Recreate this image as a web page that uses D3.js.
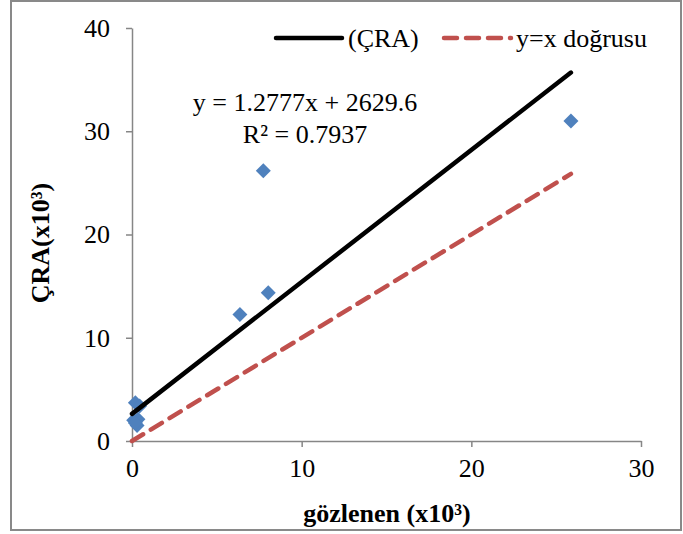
<!DOCTYPE html>
<html>
<head>
<meta charset="utf-8">
<script src="https://cdn.jsdelivr.net/npm/d3@7"></script>
<style>
  body { margin: 0; background: #fff; }
  svg { display: block; font-family: "Liberation Serif", "Times New Roman", serif; }
</style>
</head>
<body>
<div id="svg-container"></div>
<script>
// data (x10^3)
const gozlenen = [25.87, 7.74, 8.03, 6.36, 0.2, 0.45, 0.1, 0.35, 0.3, 0.2];
const cra      = [31.0, 26.17, 14.36, 12.26, 3.7, 3.4, 2.0, 2.1, 1.5, 1.75];
const xTicks = [0, 10, 20, 30];
const yTicks = [0, 10, 20, 30, 40];
// trend line (from label)
const slope = 1.2777;
const intercept = 2.6296; // 2629.6 / 1000
const equationText = "y = 1.2777x + 2629.6";
const r2Text = "R² = 0.7937";
const legendNames = ["(ÇRA)", "y=x doğrusu"];

const width = 683, height = 534;
const svg = d3.select("#svg-container").append("svg")
  .attr("width", width).attr("height", height);

// outer border
svg.append("rect")
  .attr("x", 11).attr("y", 1).attr("width", 670).attr("height", 529)
  .attr("fill", "#fff").attr("stroke", "#898989").attr("stroke-width", 2);

const xScale = d3.scaleLinear().domain([0, 30]).range([132, 641]);
const yScale = d3.scaleLinear().domain([0, 40]).range([441, 28]);

const axisColor = "#868686";

// y axis
const yAxis = svg.append("g")
  .attr("transform", `translate(${xScale(0)},0)`)
  .call(d3.axisLeft(yScale).tickValues(yTicks).tickSize(6).tickSizeOuter(0).tickPadding(16));
// x axis
const xAxis = svg.append("g")
  .attr("transform", `translate(0,${yScale(0)})`)
  .call(d3.axisBottom(xScale).tickValues(xTicks).tickSize(6).tickSizeOuter(0).tickPadding(12));

[xAxis, yAxis].forEach(g => {
  g.select(".domain").attr("stroke", axisColor).attr("stroke-width", 1.5);
  g.selectAll(".tick line").attr("stroke", axisColor).attr("stroke-width", 1.5);
  g.selectAll(".tick text")
    .attr("fill", "#000")
    .style("font-family", "Liberation Serif")
    .style("font-size", "26px");
});

// y=x line
const xMax = d3.max(gozlenen);
svg.append("line")
  .attr("x1", xScale(0)).attr("y1", yScale(0))
  .attr("x2", xScale(xMax)).attr("y2", yScale(xMax))
  .attr("stroke", "#C0504D").attr("stroke-width", 4.5)
  .attr("stroke-dasharray", "13,9").attr("stroke-linecap", "round");

// points
const points = gozlenen.map((g, i) => ({ x: g, y: cra[i] }));
svg.selectAll(".pt").data(points).join("path")
  .attr("class", "pt")
  .attr("d", d3.symbol(d3.symbolSquare).size(112))
  .attr("transform", d => `translate(${xScale(d.x)},${yScale(d.y)}) rotate(45)`)
  .attr("fill", "#4F81BD");

// trend line
svg.append("line")
  .attr("x1", xScale(0)).attr("y1", yScale(intercept))
  .attr("x2", xScale(xMax)).attr("y2", yScale(slope * xMax + intercept))
  .attr("stroke", "#000").attr("stroke-width", 4.5).attr("stroke-linecap", "round");

// equation label
const eq = svg.append("text")
  .attr("text-anchor", "middle")
  .style("font-size", "26px");
eq.append("tspan").attr("x", 305).attr("y", 111).text(equationText);
eq.append("tspan").attr("x", 305).attr("y", 143).text(r2Text);

// legend
const legend = svg.append("g");
legend.append("line")
  .attr("x1", 276).attr("x2", 342).attr("y1", 38).attr("y2", 38)
  .attr("stroke", "#000").attr("stroke-width", 4.5).attr("stroke-linecap", "round");
legend.append("text").attr("x", 348).attr("y", 47)
  .style("font-size", "26px").text(legendNames[0]);
legend.append("line")
  .attr("x1", 444).attr("x2", 511).attr("y1", 38).attr("y2", 38)
  .attr("stroke", "#C0504D").attr("stroke-width", 4.5)
  .attr("stroke-dasharray", "13,9").attr("stroke-linecap", "round");
legend.append("text").attr("x", 516).attr("y", 47)
  .style("font-size", "26px").text(legendNames[1]);

// axis titles
svg.append("text")
  .attr("x", 387).attr("y", 522)
  .attr("text-anchor", "middle")
  .style("font-size", "26px").style("font-weight", "bold")
  .text("gözlenen (x10³)");
svg.append("text")
  .attr("transform", "translate(49,243) rotate(-90)")
  .attr("text-anchor", "middle")
  .style("font-size", "26px").style("font-weight", "bold")
  .text("ÇRA(x10³)");
</script>
</body>
</html>
